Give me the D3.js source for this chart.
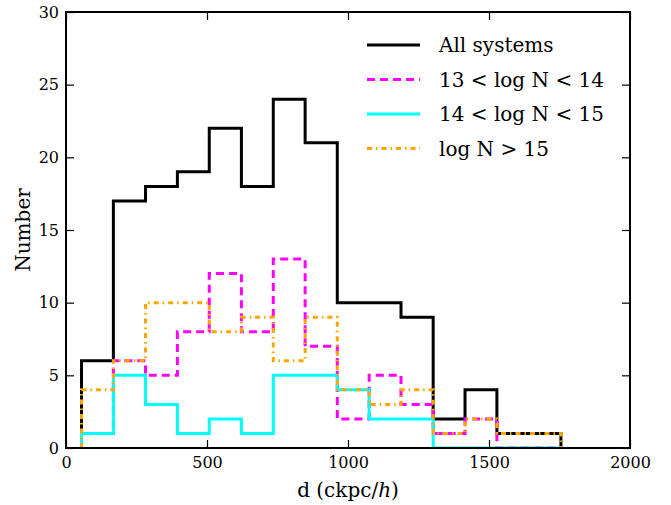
<!DOCTYPE html>
<html>
<head>
<meta charset="utf-8">
<script src="https://cdn.jsdelivr.net/npm/d3@7"></script>
<style>
body { margin: 0; background: #fff; }
svg text { font-family: "DejaVu Serif", serif; fill: #000; }
</style>
</head>
<body>
<svg id="svg" width="671" height="505"></svg>
<script>
// bin edges (ckpc/h)
const edges = [55, 168, 282, 395, 508, 622, 735, 848, 962, 1075, 1188, 1302, 1415, 1528, 1642, 1755];
// counts per bin
const allSystems = [6, 17, 18, 19, 22, 18, 24, 21, 10, 10, 9, 2, 4, 1, 1];
const logN13_14 = [1, 6, 5, 8, 12, 8, 13, 7, 2, 5, 3, 1, 2, 0, 0];
const logN14_15 = [1, 5, 3, 1, 2, 1, 5, 5, 4, 2, 2, 0, 0, 0, 0];
const logN15 = [4, 6, 10, 10, 8, 9, 6, 9, 4, 3, 4, 1, 2, 1, 1];
const xTicks = [0, 500, 1000, 1500, 2000];
const yTicks = [0, 5, 10, 15, 20, 25, 30];

const series = [
    {name: "All systems", values: allSystems, color: "#000000", dash: null},
    {name: "13 < log N < 14", values: logN13_14, color: "#ff00ff", dash: "8,5"},
    {name: "14 < log N < 15", values: logN14_15, color: "#00ffff", dash: null},
    {name: "log N > 15", values: logN15, color: "#ffa500", dash: "5,4,1.5,4"}
];

const pLeft = 66, pRight = 630, pTop = 12, pBottom = 448;
const svg = d3.select("#svg");

const xScale = d3.scaleLinear().domain([0, 2000]).range([pLeft, pRight]);
const yScale = d3.scaleLinear().domain([0, 30]).range([pBottom, pTop]);

svg.append("clipPath").attr("id", "clip")
    .append("rect").attr("x", pLeft).attr("y", pTop).attr("width", pRight - pLeft).attr("height", pBottom - pTop);

const stepPoints = function(vals){
    const pts = [[edges[0], 0]];
    vals.forEach((v, i) => {
        pts.push([edges[i], v]);
        pts.push([edges[i + 1], v]);
    });
    pts.push([edges[vals.length], 0]);
    return pts;
};

const line = d3.line().x(d => xScale(d[0])).y(d => yScale(d[1]));

const g = svg.append("g").attr("clip-path", "url(#clip)");
series.forEach(s => {
    g.append("path")
        .attr("d", line(stepPoints(s.values)))
        .attr("fill", "none")
        .attr("stroke", s.color)
        .attr("stroke-width", 3)
        .attr("stroke-dasharray", s.dash)
        .attr("stroke-linejoin", "miter");
});

// axes: ticks inside on all four sides
const tickLen = 8;
const fmt = d3.format("d");
const axB = svg.append("g").attr("transform", `translate(0,${pBottom})`)
    .call(d3.axisBottom(xScale).tickValues(xTicks).tickFormat(fmt).tickSizeInner(-tickLen).tickSizeOuter(0).tickPadding(9));
const axT = svg.append("g").attr("transform", `translate(0,${pTop})`)
    .call(d3.axisTop(xScale).tickValues(xTicks).tickSizeInner(-tickLen).tickSizeOuter(0).tickFormat(""));
const axL = svg.append("g").attr("transform", `translate(${pLeft},0)`)
    .call(d3.axisLeft(yScale).tickValues(yTicks).tickFormat(fmt).tickSizeInner(-tickLen).tickSizeOuter(0).tickPadding(7));
const axR = svg.append("g").attr("transform", `translate(${pRight},0)`)
    .call(d3.axisRight(yScale).tickValues(yTicks).tickSizeInner(-tickLen).tickSizeOuter(0).tickFormat(""));

[axB, axT, axL, axR].forEach(a => {
    a.attr("font-family", null);
    a.select(".domain").remove();
    a.selectAll(".tick line").attr("stroke", "#000").attr("stroke-width", 1.2);
    a.selectAll(".tick text").attr("font-size", 16);
});

svg.append("rect")
    .attr("x", pLeft).attr("y", pTop).attr("width", pRight - pLeft).attr("height", pBottom - pTop)
    .attr("fill", "none").attr("stroke", "#000").attr("stroke-width", 2);

// axis labels
const xl = svg.append("text").attr("x", (pLeft + pRight) / 2).attr("y", 497)
    .attr("text-anchor", "middle").attr("font-size", 20);
xl.append("tspan").text("d (ckpc/");
xl.append("tspan").attr("font-style", "italic").text("h");
xl.append("tspan").text(")");

svg.append("text").attr("transform", `translate(30,${(pTop + pBottom) / 2}) rotate(-90)`)
    .attr("text-anchor", "middle").attr("font-size", 20).text("Number");

// legend
const leg = svg.append("g");
series.forEach((s, i) => {
    const y = 45 + i * 34.5;
    leg.append("line").attr("x1", 367).attr("x2", 420).attr("y1", y).attr("y2", y)
        .attr("stroke", s.color).attr("stroke-width", 3).attr("stroke-dasharray", s.dash);
    leg.append("text").attr("x", 439).attr("y", y + 7).attr("font-size", 20).text(s.name);
});
</script>
</body>
</html>
